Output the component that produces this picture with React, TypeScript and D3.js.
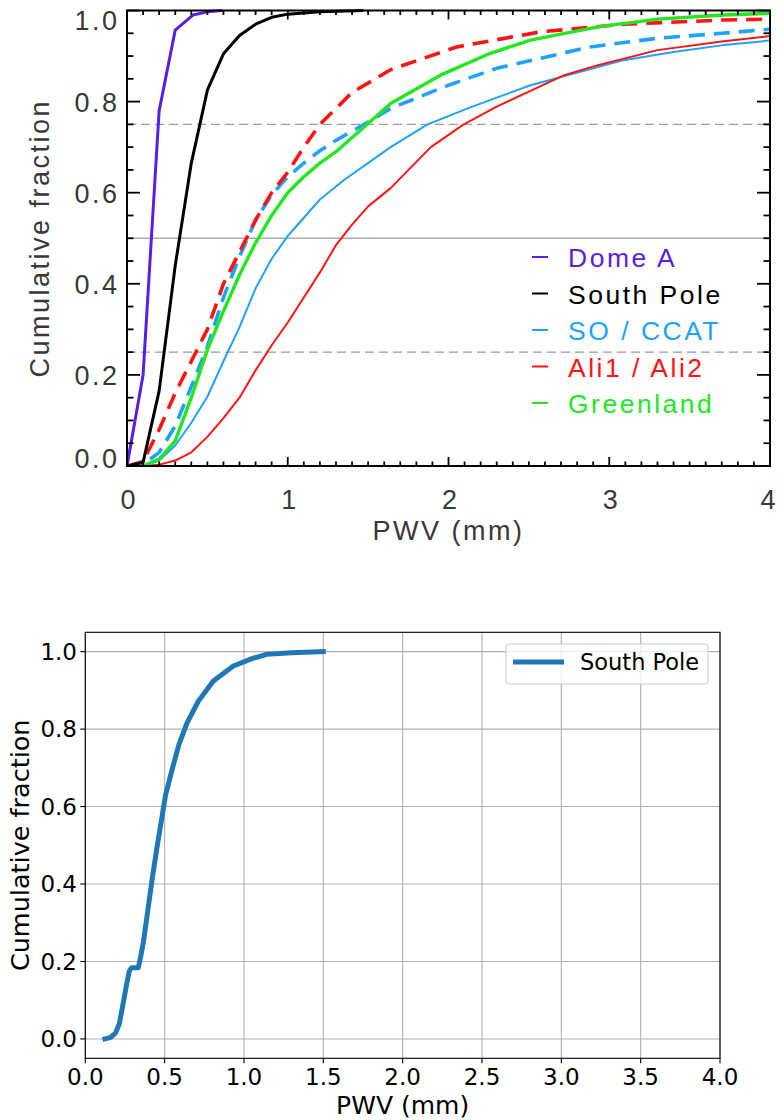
import React from 'react';
import * as d3 from 'd3';

// ---------- Top chart data (IDL-style CDF plot) ----------
const pwvDomeA = [0, 0.1, 0.2, 0.3, 0.41, 0.5, 0.59];
const cdfDomeA = [0, 0.2, 0.78, 0.957, 0.99, 0.997, 1.0];

const pwvSouthPole = [0, 0.1, 0.2, 0.3, 0.4, 0.5, 0.6, 0.7, 0.8, 0.9, 1.0, 1.2, 1.47];
const cdfSouthPole = [0, 0.008, 0.165, 0.44, 0.665, 0.825, 0.905, 0.945, 0.97, 0.985, 0.992, 0.997, 1.0];

const pwvSO = [0, 0.1, 0.2, 0.3, 0.4, 0.5, 0.6, 0.7, 0.8, 0.9, 1.0, 1.2, 1.35, 1.64, 1.87, 2.12, 2.51, 2.74, 3.09, 3.4, 3.71, 4.0];
const cdfSO = [0, 0, 0.012, 0.045, 0.095, 0.152, 0.23, 0.305, 0.39, 0.455, 0.505, 0.585, 0.628, 0.7, 0.75, 0.785, 0.836, 0.858, 0.891, 0.909, 0.924, 0.934];

const pwvCCAT = [0, 0.1, 0.2, 0.3, 0.4, 0.5, 0.6, 0.7, 0.8, 0.9, 1.0, 1.1, 1.2, 1.3, 1.5, 1.64, 2.0, 2.3, 2.88, 3.3, 3.7, 4.0];
const cdfCCAT = [0, 0.003, 0.03, 0.088, 0.174, 0.262, 0.37, 0.46, 0.54, 0.595, 0.635, 0.665, 0.692, 0.715, 0.755, 0.785, 0.836, 0.873, 0.92, 0.939, 0.95, 0.959];

const pwvAli1 = [0, 0.1, 0.2, 0.3, 0.4, 0.5, 0.6, 0.7, 0.8, 0.9, 1.0, 1.1, 1.2, 1.3, 1.4, 1.5, 1.64, 1.89, 2.09, 2.3, 2.72, 2.93, 3.3, 3.7, 4.0];
const cdfAli1 = [0, 0, 0.003, 0.012, 0.03, 0.064, 0.105, 0.15, 0.21, 0.265, 0.315, 0.37, 0.425, 0.485, 0.53, 0.57, 0.61, 0.7, 0.749, 0.789, 0.858, 0.88, 0.913, 0.932, 0.944];

const pwvAli2 = [0, 0.1, 0.2, 0.3, 0.4, 0.5, 0.6, 0.7, 0.8, 0.9, 1.0, 1.1, 1.2, 1.4, 1.64, 2.05, 2.57, 3.09, 3.71, 4.0];
const cdfAli2 = [0, 0.01, 0.08, 0.16, 0.23, 0.3, 0.4, 0.47, 0.54, 0.6, 0.645, 0.7, 0.75, 0.82, 0.87, 0.92, 0.953, 0.97, 0.979, 0.981];

const pwvGreenland = [0, 0.1, 0.2, 0.3, 0.4, 0.5, 0.6, 0.7, 0.8, 0.9, 1.0, 1.1, 1.2, 1.3, 1.5, 1.64, 1.95, 2.26, 2.51, 2.93, 3.3, 3.71, 4.0];
const cdfGreenland = [0, 0, 0.015, 0.055, 0.15, 0.255, 0.34, 0.42, 0.49, 0.55, 0.6, 0.635, 0.665, 0.69, 0.752, 0.796, 0.858, 0.906, 0.935, 0.964, 0.981, 0.99, 0.994];

const topXTicks = [0, 1, 2, 3, 4];
const topYTicks = [0, 0.2, 0.4, 0.6, 0.8, 1.0];
const topRefDashed = [0.25, 0.75];
const topRefSolid = [0.5];
const legendLabels = ['Dome A', 'South Pole', 'SO / CCAT', 'Ali1 / Ali2', 'Greenland'];

// ---------- Bottom chart data (matplotlib-style) ----------
const pwvSPBottom = [0.124, 0.16, 0.19, 0.215, 0.24, 0.26, 0.277, 0.292, 0.334, 0.35, 0.366, 0.39, 0.418, 0.45, 0.506, 0.55, 0.59, 0.64, 0.712, 0.807, 0.933, 1.05, 1.143, 1.3, 1.5];
const cdfSPBottom = [0, 0.004, 0.015, 0.04, 0.095, 0.14, 0.175, 0.184, 0.184, 0.215, 0.25, 0.32, 0.403, 0.49, 0.63, 0.7, 0.76, 0.815, 0.872, 0.924, 0.963, 0.982, 0.993, 0.997, 1.0];
const botXTicks = [0, 0.5, 1.0, 1.5, 2.0, 2.5, 3.0, 3.5, 4.0];
const botYTicks = [0, 0.2, 0.4, 0.6, 0.8, 1.0];

const C = {
  purple: '#5a1de4',
  black: '#000000',
  blue: '#1ea2fb',
  red: '#ff1414',
  green: '#22e622',
  mpl: '#1f77b4',
};

function zip(xs: number[], ys: number[]): [number, number][] {
  return xs.map((x, i) => [x, ys[i]]);
}

function TopChart() {
  const L = 127, R = 770, T = 10.5, B = 466;
  const x = d3.scaleLinear().domain([0, 4]).range([L, R]);
  const y = d3.scaleLinear().domain([0, 1]).range([B, T]);
  const line = d3.line<[number, number]>().x(d => x(d[0])).y(d => y(d[1]));
  const font = "'Liberation Sans', Arial, sans-serif";
  const txt = '#383838';
  const ls = 2.5;

  const series = [
    { d: zip(pwvSO, cdfSO), c: C.blue, w: 2, dash: null },
    { d: zip(pwvAli1, cdfAli1), c: C.red, w: 2, dash: null },
    { d: zip(pwvCCAT, cdfCCAT), c: C.blue, w: 3.6, dash: '16,9' },
    { d: zip(pwvAli2, cdfAli2), c: C.red, w: 3.6, dash: '16,9' },
    { d: zip(pwvGreenland, cdfGreenland), c: C.green, w: 3.4, dash: null },
    { d: zip(pwvSouthPole, cdfSouthPole), c: C.black, w: 3, dash: null },
    { d: zip(pwvDomeA, cdfDomeA), c: C.purple, w: 3, dash: null },
  ];
  const legendColors = [C.purple, C.black, C.blue, C.red, C.green];
  const legendTextColors = [C.purple, '#000', C.blue, C.red, C.green];

  const yMinor = d3.range(0, 1.0001, 0.05);
  const xMinor = d3.range(0, 4.0001, 0.1);
  const yMajLen = 13, yMinLen = 6.5, xMajLen = 9, xMinLen = 4.5;

  return (
    <g>
      <defs>
        <clipPath id="topclip">
          <rect x={L} y={T - 2} width={R - L} height={B - T + 2} />
        </clipPath>
      </defs>
      {topRefDashed.map(v => (
        <line key={'rd' + v} x1={L} x2={R} y1={y(v)} y2={y(v)} stroke="#999" strokeWidth={1.4} strokeDasharray="9,5" />
      ))}
      {topRefSolid.map(v => (
        <line key={'rs' + v} x1={L} x2={R} y1={y(v)} y2={y(v)} stroke="#aaa" strokeWidth={1.6} />
      ))}
      <g clipPath="url(#topclip)">
        {series.map((s, i) => (
          <path key={i} d={line(s.d) || ''} fill="none" stroke={s.c} strokeWidth={s.w}
            strokeDasharray={s.dash || undefined} strokeLinejoin="round" />
        ))}
      </g>
      <rect x={L} y={T} width={R - L} height={B - T} fill="none" stroke="#000" strokeWidth={2} />
      {yMinor.map((v, i) => {
        const major = i % 4 === 0;
        const len = major ? yMajLen : yMinLen;
        return (
          <g key={'yt' + i} stroke="#000" strokeWidth={1.8}>
            <line x1={L} x2={L + len} y1={y(v)} y2={y(v)} />
            <line x1={R} x2={R - len} y1={y(v)} y2={y(v)} />
          </g>
        );
      })}
      {xMinor.map((v, i) => {
        const major = i % 10 === 0;
        const len = major ? xMajLen : xMinLen;
        return (
          <g key={'xt' + i} stroke="#000" strokeWidth={1.8}>
            <line x1={x(v)} x2={x(v)} y1={B} y2={B - len} />
            <line x1={x(v)} x2={x(v)} y1={T} y2={T + len} />
          </g>
        );
      })}
      {topYTicks.map(v => {
        const cy = Math.min(Math.max(y(v), T + 9.5), B - 8);
        return (
          <text key={'yl' + v} x={119.5} y={cy + 10} textAnchor="end" fontFamily={font} fontSize={27}
            fill={txt} letterSpacing={ls}>{v.toFixed(1)}</text>
        );
      })}
      {topXTicks.map(v => (
        <text key={'xl' + v} x={Math.min(x(v) + 1, 768)} y={509} textAnchor="middle" fontFamily={font} fontSize={27}
          fill={txt}>{String(v)}</text>
      ))}
      <text x={(L + R) / 2} y={540} textAnchor="middle" fontFamily={font} fontSize={27} fill={txt}
        letterSpacing={ls}>PWV (mm)</text>
      <text transform={`translate(49,${(T + B) / 2}) rotate(-90)`} textAnchor="middle" fontFamily={font}
        fontSize={27} fill={txt} letterSpacing={ls}>Cumulative fraction</text>
      {legendLabels.map((lab, i) => {
        const cy = 257 + i * 36.5;
        return (
          <g key={'lg' + i}>
            <line x1={532} x2={548} y1={cy} y2={cy} stroke={legendColors[i]} strokeWidth={2} />
            <text x={568} y={cy + 10} fontFamily={font} fontSize={26.5} fill={legendTextColors[i]}
              letterSpacing={ls} style={{ whiteSpace: 'pre' }}>{lab}</text>
          </g>
        );
      })}
    </g>
  );
}

function BottomChart() {
  const L = 85.3, R = 720, T = 632.3, B = 1058.3;
  const x = d3.scaleLinear().domain([0, 4]).range([L, R]);
  const y = d3.scaleLinear().domain([-0.05, 1.05]).range([B, T]);
  const line = d3.line<[number, number]>().x(d => x(d[0])).y(d => y(d[1]));
  const font = "'DejaVu Sans', sans-serif";
  return (
    <g>
      {botXTicks.map(v => (
        <line key={'gx' + v} x1={x(v)} x2={x(v)} y1={T} y2={B} stroke="#b0b0b0" strokeWidth={1.1} />
      ))}
      {botYTicks.map(v => (
        <line key={'gy' + v} x1={L} x2={R} y1={y(v)} y2={y(v)} stroke="#b0b0b0" strokeWidth={1.1} />
      ))}
      <path d={line(zip(pwvSPBottom, cdfSPBottom)) || ''} fill="none" stroke={C.mpl} strokeWidth={5}
        strokeLinecap="square" strokeLinejoin="round" />
      <rect x={L} y={T} width={R - L} height={B - T} fill="none" stroke="#000" strokeWidth={1.1} />
      {botXTicks.map(v => (
        <g key={'tx' + v}>
          <line x1={x(v)} x2={x(v)} y1={B} y2={B + 5} stroke="#000" strokeWidth={1.1} />
          <text x={x(v)} y={1085} textAnchor="middle" fontFamily={font} fontSize={23} fill="#000">{v.toFixed(1)}</text>
        </g>
      ))}
      {botYTicks.map(v => (
        <g key={'ty' + v}>
          <line x1={L - 5} x2={L} y1={y(v)} y2={y(v)} stroke="#000" strokeWidth={1.1} />
          <text x={77} y={y(v) + 8.3} textAnchor="end" fontFamily={font} fontSize={23} fill="#000">{v.toFixed(1)}</text>
        </g>
      ))}
      <text x={(L + R) / 2} y={1114} textAnchor="middle" fontFamily={font} fontSize={25} fill="#000">PWV (mm)</text>
      <text transform={`translate(29,${(T + B) / 2}) rotate(-90)`} textAnchor="middle" fontFamily={font}
        fontSize={25.5} fill="#000">Cumulative fraction</text>
      <rect x={506} y={644} width={202} height={40} rx={3} fill="#fff" fillOpacity={0.8} stroke="#ccc" strokeWidth={1} />
      <line x1={513} x2={564} y1={662} y2={662} stroke={C.mpl} strokeWidth={5} />
      <text x={580} y={670} fontFamily={font} fontSize={22.5} fill="#000">South Pole</text>
    </g>
  );
}

export default function App() {
  return (
    <svg width={778} height={1120} viewBox="0 0 778 1120"
      style={{ position: 'absolute', left: 0, top: 0, background: '#fff' }}>
      <rect x={0} y={0} width={778} height={1120} fill="#fff" />
      <TopChart />
      <BottomChart />
    </svg>
  );
}
